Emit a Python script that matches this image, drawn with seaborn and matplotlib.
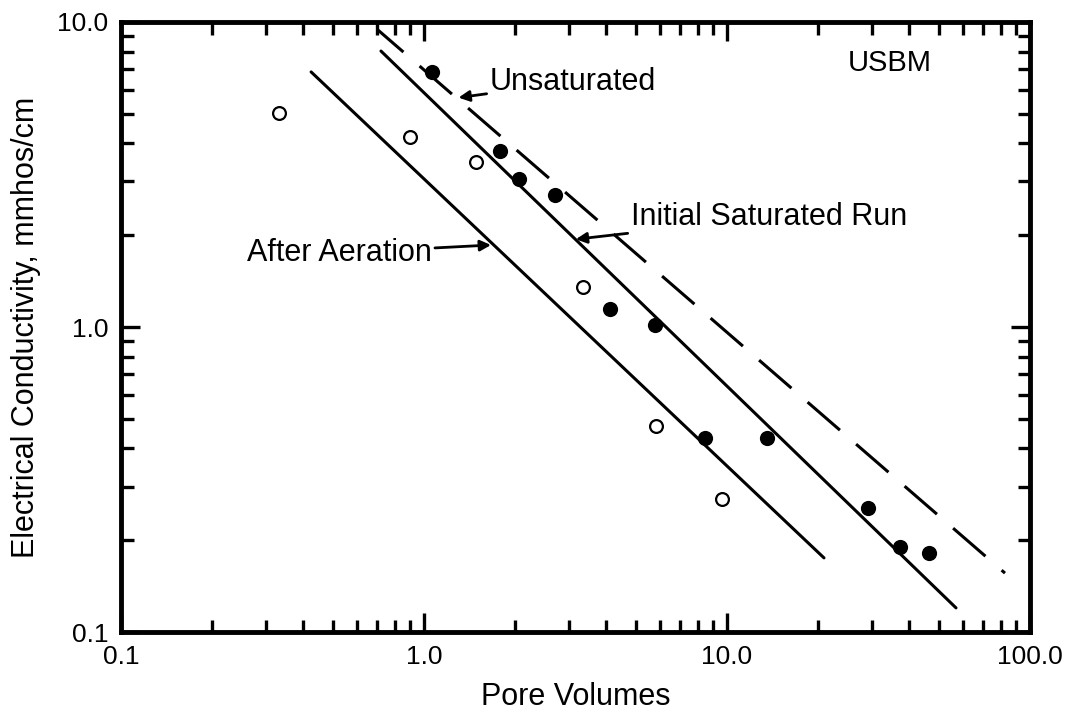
import numpy as np
import pandas as pd
import matplotlib
matplotlib.use("Agg")
import matplotlib.pyplot as plt
from matplotlib.ticker import FixedLocator, FixedFormatter, LogLocator, NullFormatter
import seaborn as sns

# ---- data ----
open_x = [0.332, 0.899, 1.484, 3.35, 5.83, 9.63]
open_y = [5.03, 4.20, 3.475, 1.353, 0.4735, 0.273]

filled_x = [1.063, 1.781, 2.058, 2.706, 4.11, 5.79, 8.46, 13.55, 29.2, 37.2, 46.4]
filled_y = [6.86, 3.78, 3.06, 2.71, 1.146, 1.015, 0.4326, 0.4326, 0.255, 0.19, 0.1815]

aeration_x = [0.424, 20.9]
aeration_y = [6.86, 0.175]
initial_x = [0.721, 57.0]
initial_y = [8.03, 0.12]
unsat_x = [0.705, 82.7]
unsat_y = [9.41, 0.156]

x_ticks = [0.1, 1.0, 10.0, 100.0]
x_ticklabels = ["0.1", "1.0", "10.0", "100.0"]
y_ticks = [0.1, 1.0, 10.0]
y_ticklabels = ["0.1", "1.0", "10.0"]

sns.set_theme(style="ticks")
plt.rcParams['font.family'] = ['Liberation Sans', 'DejaVu Sans']
plt.rcParams['text.color'] = 'black'
plt.rcParams['axes.labelcolor'] = 'black'
plt.rcParams['xtick.color'] = 'black'
plt.rcParams['ytick.color'] = 'black'

fig, ax = plt.subplots(figsize=(10.71, 7.14), dpi=100)
fig.subplots_adjust(left=0.113, right=0.9617, bottom=0.1148, top=0.9692)

ax.set_xscale("log")
ax.set_yscale("log")

lw = 2.2
sns.lineplot(x=aeration_x, y=aeration_y, ax=ax, color="black", lw=lw, sort=False)
sns.lineplot(x=initial_x, y=initial_y, ax=ax, color="black", lw=lw, sort=False)
sns.lineplot(x=unsat_x, y=unsat_y, ax=ax, color="black", lw=lw, sort=False,
             linestyle=(3, (14, 7)))

sns.scatterplot(x=filled_x, y=filled_y, ax=ax, color="black", s=120,
                edgecolor="black", linewidth=0, zorder=5)
sns.scatterplot(x=open_x, y=open_y, ax=ax, facecolor="white", s=85,
                edgecolor="black", linewidth=1.6, zorder=5)

ax.set_xlim(0.1, 100)
ax.set_ylim(0.1, 10)

ax.xaxis.set_major_locator(FixedLocator(x_ticks))
ax.xaxis.set_major_formatter(FixedFormatter(x_ticklabels))
ax.yaxis.set_major_locator(FixedLocator(y_ticks))
ax.yaxis.set_major_formatter(FixedFormatter(y_ticklabels))
ax.xaxis.set_minor_locator(LogLocator(base=10, subs=np.arange(2, 10)))
ax.yaxis.set_minor_locator(LogLocator(base=10, subs=np.arange(2, 10)))
ax.xaxis.set_minor_formatter(NullFormatter())
ax.yaxis.set_minor_formatter(NullFormatter())

ax.tick_params(which="both", direction="in", top=True, right=True,
               color="black", width=2.4)
ax.tick_params(which="major", length=14, labelsize=19, pad=9, labelcolor="black")
ax.tick_params(which="minor", length=9)

for sp in ax.spines.values():
    sp.set_linewidth(3.5)
    sp.set_color("black")

ax.set_xlabel("Pore Volumes", fontsize=22, color="black", labelpad=10)
ax.set_ylabel("Electrical Conductivity, mmhos/cm", fontsize=22, color="black", labelpad=12)

arrow = dict(arrowstyle="-|>", lw=2.0, color="black", mutation_scale=16,
             shrinkA=0, shrinkB=0)
ax.annotate("Unsaturated", xy=(1.30, 5.65), xytext=(1.65, 6.36),
            fontsize=22, va="center", ha="left", arrowprops=arrow, color="black")
ax.annotate("Initial Saturated Run", xy=(3.17, 1.94), xytext=(4.82, 2.29),
            fontsize=22, va="center", ha="left", arrowprops=arrow, color="black")
ax.annotate("After Aeration", xy=(1.664, 1.857), xytext=(1.06, 1.75),
            fontsize=22, va="center", ha="right", arrowprops=arrow, color="black")
ax.text(25.1, 7.34, "USBM", fontsize=21, va="center", ha="left", color="black")

fig.savefig("out.png", dpi=100)
